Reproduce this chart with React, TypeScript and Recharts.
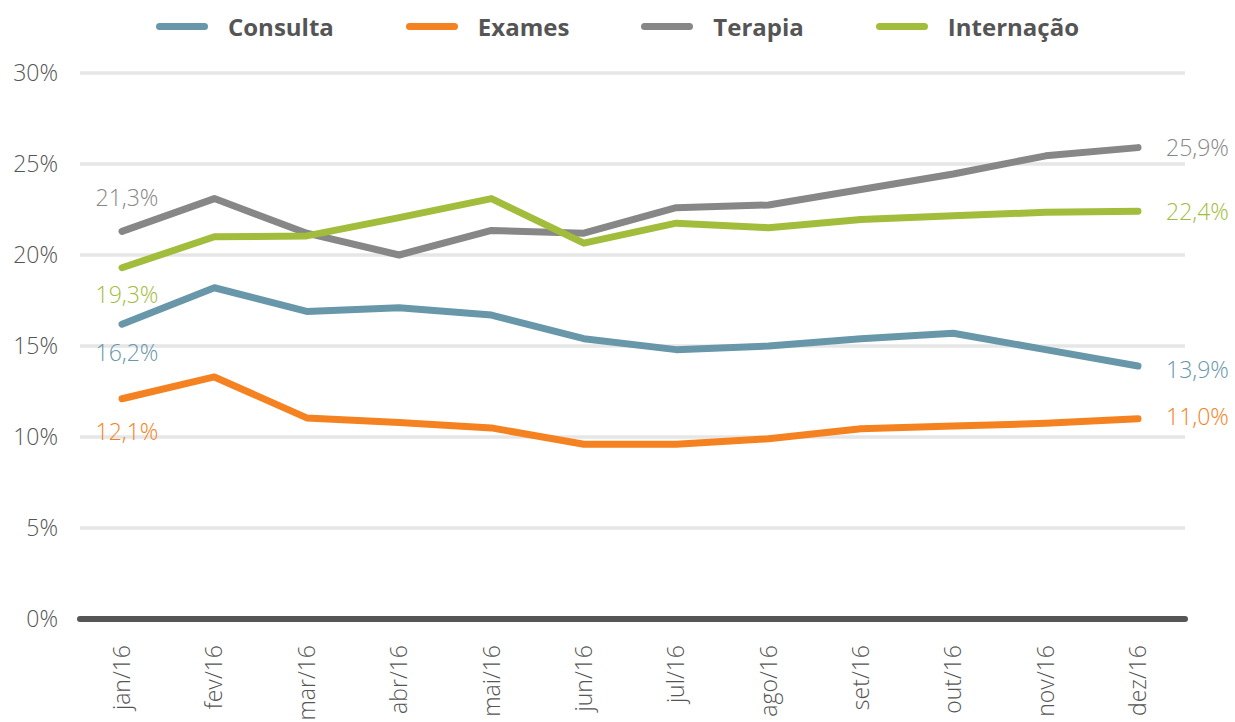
import React from "react";
import {
  LineChart,
  Line,
  XAxis,
  YAxis,
  CartesianGrid,
  Legend,
  LabelList,
  ReferenceLine,
} from "recharts";

const months = ["jan/16", "fev/16", "mar/16", "abr/16", "mai/16", "jun/16", "jul/16", "ago/16", "set/16", "out/16", "nov/16", "dez/16"];
const consulta = [16.2, 18.2, 16.9, 17.1, 16.7, 15.4, 14.8, 15.0, 15.4, 15.7, 14.8, 13.9];
const exames = [12.1, 13.3, 11.05, 10.8, 10.5, 9.6, 9.6, 9.9, 10.45, 10.6, 10.75, 11.0];
const terapia = [21.3, 23.1, 21.2, 20.0, 21.35, 21.2, 22.6, 22.75, 23.6, 24.45, 25.45, 25.9];
const internacao = [19.3, 21.0, 21.05, 22.05, 23.1, 20.65, 21.75, 21.5, 21.95, 22.15, 22.35, 22.4];
const yTicks = [0, 5, 10, 15, 20, 25, 30];

const data = months.map((m, i) => ({
  month: m,
  Consulta: consulta[i],
  Exames: exames[i],
  Terapia: terapia[i],
  "Internação": internacao[i],
}));

const series = [
  { key: "Consulta", color: "#6897aa", firstDy: 37, lastDy: 12 },
  { key: "Exames", color: "#f58220", firstDy: 41, lastDy: 6 },
  { key: "Terapia", color: "#878787", firstDy: -25, lastDy: 8 },
  { key: "Internação", color: "#a2bd3c", firstDy: 35, lastDy: 9 },
];

const FONT = "'Open Sans', 'DejaVu Sans', sans-serif";
const fmt = (v: number) => v.toFixed(1).replace(".", ",") + "%";

const makeLabel = (color: string, firstDy: number, lastDy: number) => (props: any) => {
  const { x, y, value, index } = props;
  if (index === 0) {
    return (
      <text x={x + 5} y={y + firstDy} textAnchor="middle" fill={color} fontSize={23} fontWeight={300} fontFamily={FONT}>
        {fmt(Number(value))}
      </text>
    );
  }
  if (index === months.length - 1) {
    return (
      <text x={x + 28} y={y + lastDy} textAnchor="start" fill={color} fontSize={23} fontWeight={300} fontFamily={FONT}>
        {fmt(Number(value))}
      </text>
    );
  }
  return null;
};

const XTick = (props: any) => {
  const { x, y, payload } = props;
  return (
    <g transform={`translate(${x},${y})`}>
      <text transform="rotate(-90)" textAnchor="end" dy="0.35em" fill="#555" fontSize={23} fontWeight={300} fontFamily={FONT}>
        {payload.value}
      </text>
    </g>
  );
};

const LegendContent = () => (
  <div
    style={{
      display: "flex",
      justifyContent: "center",
      alignItems: "center",
      height: 52,
      width: 1235,
      fontFamily: FONT,
    }}
  >
    {series.map((s, i) => (
      <div key={s.key} style={{ display: "flex", alignItems: "center", marginLeft: i === 0 ? 0 : 72 }}>
        <div style={{ width: 52, height: 7, borderRadius: 4, background: s.color }} />
        <span style={{ marginLeft: 20, fontSize: 24, fontWeight: 700, color: "#555" }}>{s.key}</span>
      </div>
    ))}
  </div>
);

export default function App() {
  return (
    <div style={{ position: "absolute", left: 0, top: 0, width: 1235, height: 722, background: "#fff" }}>
      <LineChart width={1235} height={722} data={data} margin={{ top: 21, right: 50, bottom: 0, left: 0 }}>
        <CartesianGrid vertical={false} stroke="#e6e6e6" strokeWidth={3.5} />
        <XAxis
          dataKey="month"
          height={103}
          padding={{ left: 42, right: 47 }}
          tickLine={false}
          axisLine={false}
          tickSize={0}
          tickMargin={26}
          interval={0}
          tick={<XTick />}
        />
        <YAxis
          width={80}
          domain={[0, 30]}
          ticks={yTicks}
          tickFormatter={(v: number) => `${v}%`}
          tickLine={false}
          axisLine={false}
          tickSize={0}
          tickMargin={22}
          tick={{ fill: "#555", fontSize: 23, fontWeight: 300, fontFamily: FONT }}
        />
        <Legend verticalAlign="top" height={52} wrapperStyle={{ top: 0, left: 0 }} content={<LegendContent />} />
        <ReferenceLine y={0} stroke="#555" strokeWidth={6} strokeLinecap="round" />
        {series.map((s) => (
          <Line
            key={s.key}
            type="linear"
            dataKey={s.key}
            stroke={s.color}
            strokeWidth={7}
            strokeLinecap="round"
            strokeLinejoin="round"
            dot={false}
            activeDot={false}
            isAnimationActive={false}
          >
            <LabelList dataKey={s.key} content={makeLabel(s.color, s.firstDy, s.lastDy)} />
          </Line>
        ))}
      </LineChart>
    </div>
  );
}
